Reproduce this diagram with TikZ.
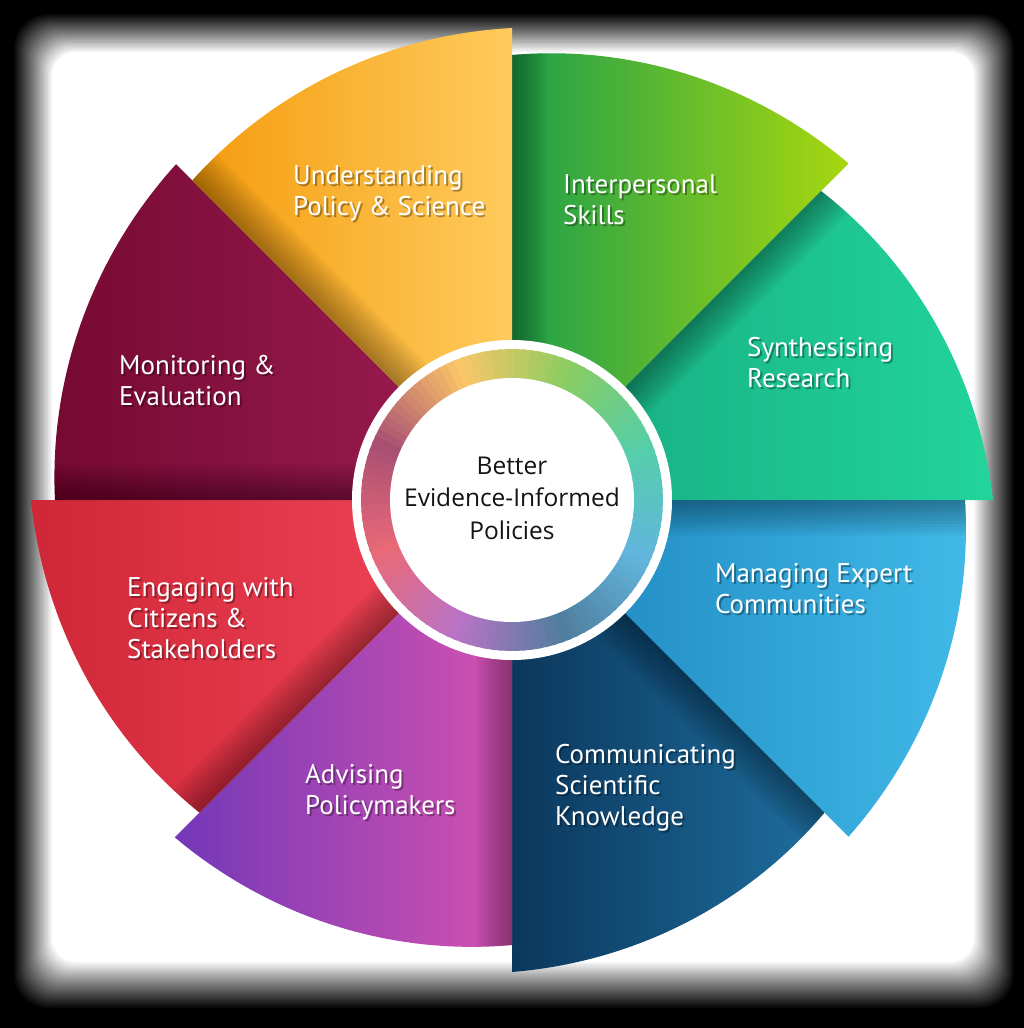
\documentclass[tikz,border=0pt]{standalone}
\usepackage{fontspec}
\setmainfont{PT Sans}
\newfontfamily\centerfont{Open Sans}
\definecolor{gL}{HTML}{1E9F4B}\definecolor{gR}{HTML}{A8D70F}
\definecolor{tL}{HTML}{16A87E}\definecolor{tR}{HTML}{22D49B}
\definecolor{bL}{HTML}{1B82BC}\definecolor{bR}{HTML}{40B9E8}
\definecolor{dL}{HTML}{0B375C}\definecolor{dR}{HTML}{1E6E9E}
\definecolor{pL}{HTML}{7338B8}\definecolor{pR}{HTML}{D452B0}
\definecolor{rL}{HTML}{CF2738}\definecolor{rR}{HTML}{F5485C}
\definecolor{mL}{HTML}{760A32}\definecolor{mR}{HTML}{A01E55}
\definecolor{yL}{HTML}{F49C0E}\definecolor{yR}{HTML}{FFCB5C}
\colorlet{rc0}{gL!50!gR!75!white}
\colorlet{rc1}{tL!50!tR!75!white}
\colorlet{rc2}{bL!50!bR!75!white}
\colorlet{rc3}{dL!50!dR!75!white}
\colorlet{rc4}{pL!50!pR!75!white}
\colorlet{rc5}{rL!50!rR!75!white}
\colorlet{rc6}{mL!50!mR!75!white}
\colorlet{rc7}{yL!50!yR!75!white}
\colorlet{rc8}{rc0}
\newcommand\wheelsector[6]{% a0, r0, r1, left colour, right colour, name
  \pgfmathsetmacro\aend{#1-45}
  \begin{scope}
    \clip (512,500) -- plot[domain=#1:\aend, samples=46] ({512+(#2+(#3-#2)*(#1-\x)/45)*cos(\x)},{500-(#2+(#3-#2)*(#1-\x)/45)*sin(\x)}) -- cycle;
    \shade[left color=#4, right color=#5] (512,500) -- plot[domain=#1:\aend, samples=46] ({512+(#2+(#3-#2)*(#1-\x)/45)*cos(\x)},{500-(#2+(#3-#2)*(#1-\x)/45)*sin(\x)}) -- cycle;
    \pgfmathsetmacro\ux{cos(#1)}\pgfmathsetmacro\uy{-sin(#1)}
    \pgfmathsetmacro\nx{cos(#1-90)}\pgfmathsetmacro\ny{-sin(#1-90)}
    \foreach \k in {1,...,12}{
      \pgfmathsetmacro\dd{3*\k}
      \fill[black, opacity=0.03] (512,500) -- ({512+520*\ux},{500+520*\uy}) -- ({512+520*\ux+\dd*\nx},{500+520*\uy+\dd*\ny}) -- ({512+\dd*\nx},{500+\dd*\ny}) -- cycle;
    }
  \end{scope}
}
\begin{document}
\begin{tikzpicture}[x=1pt,y=-1pt,
  lbl/.style={text=white, align=left, anchor=base west, inner sep=0pt, font=\fontsize{27}{31}\selectfont},
  lblsh/.style={lbl, text=black, text opacity=0.33},
  ctext/.style={text=black!92, align=center, inner sep=0pt, font=\centerfont\fontsize{24.5}{32.5}\selectfont}]
\useasboundingbox (0,0) rectangle (1024,1028);
\fill[black] (0,0) rectangle (1024,1028);
% soft white panel: layers whose summed cover rises evenly from black to white
\foreach \i in {1,...,30}{
  \pgfmathsetmacro\f{(\i-1)/29}
  \pgfmathsetmacro\al{1/(31-\i)}
  \fill[white, opacity=\al, rounded corners={34-10*\f}] ({14+38*\f},{14+38*\f}) rectangle ({1014-40*\f},{1008-46*\f});
}
% sectors (clockwise from top)
\wheelsector{90}{445}{476}{gL}{gR}{green}
\wheelsector{45}{437}{481}{tL}{tR}{teal}
\wheelsector{0}{453}{476}{bL}{bR}{blue}
\wheelsector{-45}{442}{472}{dL}{dR}{navy}
\wheelsector{-90}{445}{477}{pL}{pR}{purple}
\wheelsector{-135}{442}{481}{rL}{rR}{red}
\wheelsector{-180}{457}{475}{mL}{mR}{maroon}
\wheelsector{-225}{452}{472}{yL}{yR}{yellow}
% centre ring
\fill[white] (512,500) circle[radius=160];
\foreach \p in {0,3,...,357}{
  \pgfmathtruncatemacro\k{floor(\p/45)}
  \pgfmathtruncatemacro\kk{\k+1}
  \pgfmathtruncatemacro\pct{100-100*(\p-45*\k)/45}
  \colorlet{segc}{rc\k!\pct!rc\kk}
  \pgfmathsetmacro\ta{67.5-\p+0.4}
  \pgfmathsetmacro\tb{67.5-\p-3.4}
  \fill[segc] ({512+121*cos(\ta)},{500-121*sin(\ta)}) -- ({512+151*cos(\ta)},{500-151*sin(\ta)}) -- ({512+151*cos(\tb)},{500-151*sin(\tb)}) -- ({512+121*cos(\tb)},{500-121*sin(\tb)}) -- cycle;
}
\fill[white] (512,500) circle[radius=122];
\node[ctext] (centre) at (512,498) {Better\\Evidence-Informed\\Policies};
% labels (anchored at the baseline of the last line)
\node[lblsh] (l1s) at (295,217) {Understanding\\Policy \& Science};
\node[lbl] (l1) at (293,215) {Understanding\\Policy \& Science};
\node[lblsh] (l2s) at (565,226) {Interpersonal\\Skills};
\node[lbl] (l2) at (563,224) {Interpersonal\\Skills};
\node[lblsh] (l3s) at (749,389) {Synthesising\\Research};
\node[lbl] (l3) at (747,387) {Synthesising\\Research};
\node[lblsh] (l4s) at (717,615) {Managing Expert\\Communities};
\node[lbl] (l4) at (715,613) {Managing Expert\\Communities};
\node[lblsh] (l5s) at (557,827) {Communicating\\Scientific\\Knowledge};
\node[lbl] (l5) at (555,825) {Communicating\\Scientific\\Knowledge};
\node[lblsh] (l6s) at (307,816) {Advising\\Policymakers};
\node[lbl] (l6) at (305,814) {Advising\\Policymakers};
\node[lblsh] (l7s) at (129,660) {Engaging with\\Citizens \&\\Stakeholders};
\node[lbl] (l7) at (127,658) {Engaging with\\Citizens \&\\Stakeholders};
\node[lblsh] (l8s) at (121,407) {Monitoring \&\\Evaluation};
\node[lbl] (l8) at (119,405) {Monitoring \&\\Evaluation};
\end{tikzpicture}
\end{document}
